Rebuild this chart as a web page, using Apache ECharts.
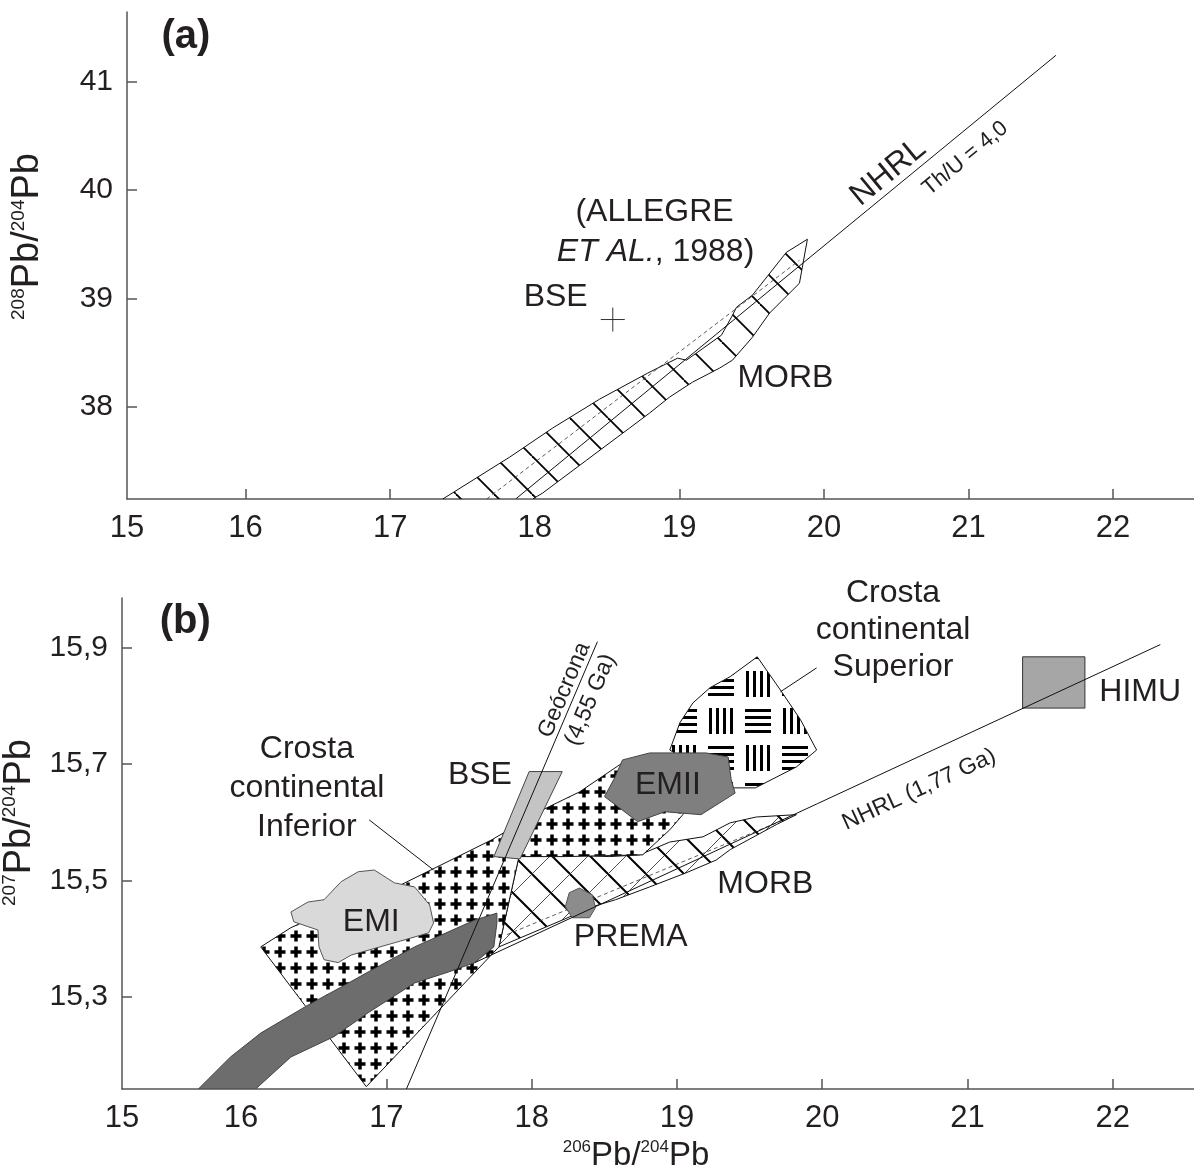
<!DOCTYPE html>
<html><head><meta charset="utf-8">
<script src="https://cdn.jsdelivr.net/npm/echarts@6/dist/echarts.min.js"></script>
<style>html,body{margin:0;padding:0;background:#fff}#c{width:1194px;height:1174px}</style>
</head><body><div id="c"></div>
<script>
// ================= DATA =================
const xTicks = [16, 17, 18, 19, 20, 21, 22];
const yTicksA = [38, 39, 40, 41];
const yTicksB = [15.3, 15.5, 15.7, 15.9];
const xMin = 15.18, xMax = 22.56;
const yMinA = 37.148, yMaxA = 41.644;
const yMinB = 15.142, yMaxB = 15.985;

// panel (a)
const morbA = [[17.364,37.148],[17.827,37.535],[18.124,37.803],[18.449,38.07],[18.781,38.31],[18.988,38.448],[19.05,38.43],[19.292,38.661],[19.361,38.827],[19.396,38.919],[19.506,39.03],[19.741,39.426],[19.886,39.546],
  [19.831,39.14],[19.624,38.864],[19.506,38.642],[19.368,38.43],[19.278,38.356],[19.092,38.227],[18.933,38.089],[18.794,37.941],[18.656,37.803],[18.359,37.507],[18.055,37.203],[17.986,37.148]];
const morbAxisA = [[17.668,37.148],[19.831,39.352]];
const nhrlA = [[17.87,37.15],[21.605,41.244]];
const bseA = [[18.54,38.805]];

// panel (b)
const morbB = [[17.775,15.386],[17.913,15.541],[18.232,15.544],[18.536,15.541],[18.744,15.544],[18.951,15.566],[19.18,15.575],[19.367,15.599],[19.547,15.609],[19.823,15.613],
  [19.685,15.596],[19.367,15.553],[19.27,15.535],[19.062,15.513],[18.813,15.489],[18.578,15.467],[18.419,15.455],[18.211,15.432]];
const morbAxisB = [[17.83,15.407],[19.803,15.611]];
const upperCrust = [[19.553,15.884],[19.713,15.827],[19.851,15.776],[19.962,15.724],[19.823,15.695],[19.54,15.659],[19.387,15.659],[18.951,15.724],[19.021,15.771],[19.111,15.805],[19.228,15.831],[19.367,15.85]];
const lowerCrust = [[16.135,15.386],[16.343,15.419],[16.689,15.458],[17.104,15.493],[17.727,15.57],[18.073,15.621],[18.329,15.652],[18.626,15.702],[18.903,15.711],[19.111,15.656],[19.041,15.613],[18.951,15.587],[18.765,15.544],[18.232,15.541],[17.913,15.541],[17.775,15.386],[17.429,15.295],[16.862,15.146]];
const darkBand = [[15.706,15.142],[16.1,15.142],[16.343,15.197],[16.64,15.232],[16.875,15.273],[17.194,15.324],[17.429,15.343],[17.609,15.359],[17.74,15.386],[17.761,15.427],[17.761,15.444],
  [17.609,15.432],[17.194,15.386],[16.875,15.343],[16.689,15.317],[16.46,15.286],[16.135,15.238],[15.927,15.197]];
const emI = [[16.343,15.446],[16.46,15.463],[16.571,15.467],[16.689,15.498],[16.806,15.515],[16.917,15.518],[17.055,15.496],[17.194,15.489],[17.298,15.458],[17.325,15.427],[17.291,15.41],[17.055,15.393],[16.758,15.372],[16.668,15.359],[16.571,15.364],[16.536,15.386],[16.529,15.415],[16.363,15.429]];
const emII = [[18.626,15.707],[18.813,15.719],[19.201,15.719],[19.353,15.712],[19.374,15.673],[19.401,15.65],[19.166,15.613],[18.917,15.618],[18.73,15.601],[18.502,15.644],[18.571,15.676]];
const prema = [[18.329,15.487],[18.419,15.475],[18.439,15.453],[18.398,15.436],[18.28,15.436],[18.232,15.455],[18.259,15.479]];
const bseB = [[17.983,15.687],[18.211,15.687],[17.92,15.537],[17.74,15.541]];
const himu = [[21.38,15.884],[21.809,15.884],[21.809,15.796],[21.38,15.796]];
const nhrlB = [[17.609,15.359],[22.328,15.905]];
const geochron = [[17.138,15.142],[18.453,15.91]];
const leaderInf = [[16.882,15.604],[17.325,15.518]];
const leaderSup = [[19.962,15.865],[19.713,15.824]];

// text labels (anchor in data units)
const labelsA = [
  {t:'(a)', x:15.588, y:41.41, s:'panel'},
  {t:'(ALLEGRE', x:18.829, y:39.795, s:'lbl'},
  {t:'{i|ET AL.}, 1988)', x:18.836, y:39.426, s:'lbl'},
  {t:'BSE', x:18.145, y:39.011, s:'lbl'},
  {t:'MORB', x:19.734, y:38.264, s:'lbl'},
  {t:'NHRL', x:20.446, y:40.164, s:'nhrl'},
  {t:'Th/U = 4,0', x:20.978, y:40.293, s:'thu'}
];
const labelsB = [
  {t:'(b)', x:15.616, y:15.944, s:'panel'},
  {t:'Crosta\ncontinental\nInferior', x:16.453, y:15.658, s:'lbl'},
  {t:'BSE', x:17.644, y:15.681, s:'lbl'},
  {t:'Geócrona', x:18.225, y:15.827, s:'geo'},
  {t:'(4,55 Ga)', x:18.405, y:15.81, s:'geo'},
  {t:'Crosta\ncontinental\nSuperior', x:20.488, y:15.93, s:'lbl2'},
  {t:'EMII', x:18.938, y:15.664, s:'lbl'},
  {t:'EMI', x:16.896, y:15.429, s:'lbl'},
  {t:'PREMA', x:18.682, y:15.402, s:'lbl'},
  {t:'MORB', x:19.609, y:15.493, s:'lbl'},
  {t:'HIMU', x:22.19, y:15.824, s:'lbl'},
  {t:'NHRL (1,77 Ga)', x:20.668, y:15.656, s:'nhrlb'}
];

// ================= STYLES / PATTERNS =================
const FONT = '"Liberation Sans", Arial, sans-serif';
const INK = '#231f20';
function cv(w, h) { const c = document.createElement('canvas'); c.width = w; c.height = h; return c; }
function plusPattern() {
  const s = 16, c = cv(s, s), g = c.getContext('2d');
  g.fillStyle = '#fff'; g.fillRect(0, 0, s, s);
  g.fillStyle = '#000'; g.fillRect(2.5, 6.25, 11, 3.5); g.fillRect(6.25, 2.5, 3.5, 11);
  return c;
}
function latticePattern(s, thick, thin) {
  const c = cv(s, s), g = c.getContext('2d');
  g.fillStyle = '#fff'; g.fillRect(0, 0, s, s);
  g.strokeStyle = '#000';
  g.lineWidth = thick;
  for (const d of [-s, 0, s]) { g.beginPath(); g.moveTo(d, 0); g.lineTo(d + s, s); g.stroke(); }
  if (thin > 0) {
    g.lineWidth = thin; g.strokeStyle = '#222';
    for (const d of [-s, 0, s]) { g.beginPath(); g.moveTo(d, s); g.lineTo(d + s, 0); g.stroke(); }
  }
  return c;
}
function blockPattern() {
  const cell = 37, s = 74, c = cv(s, s), g = c.getContext('2d');
  g.fillStyle = '#fff'; g.fillRect(0, 0, s, s);
  g.fillStyle = '#000';
  for (let i = 0; i < 2; i++) for (let j = 0; j < 2; j++) {
    const ox = i * cell, oy = j * cell;
    for (let k = 0; k < 4; k++) {
      if ((i + j) % 2 === 0) g.fillRect(ox + 6 + k * 7, oy + 5, 3, 26);
      else g.fillRect(ox + 5, oy + 6 + k * 7, 26, 3);
    }
  }
  return c;
}
const PAT_PLUS = {image: plusPattern(), repeat: 'repeat'};
const PAT_MORB_A = {image: latticePattern(38, 1.8, 0), repeat: 'repeat'};
const PAT_MORB_B = {image: latticePattern(38, 2, 0.8), repeat: 'repeat'};
const PAT_BLOCK = {image: blockPattern(), repeat: 'repeat'};

const TS = {
  panel: {fontSize: 40, fontWeight: 'bold'},
  lbl: {fontSize: 32, lineHeight: 39},
  lbl2: {fontSize: 32, lineHeight: 37},
  nhrl: {fontSize: 32, rot: 39.5},
  thu: {fontSize: 22, rot: 39.5},
  geo: {fontSize: 23, rot: 67},
  nhrlb: {fontSize: 23, rot: 24.7}
};

function polySeries(grid, pts, style, z) {
  return {
    type: 'custom', xAxisIndex: grid, yAxisIndex: grid, z: z, silent: true, clip: true,
    data: pts,
    renderItem: function (params, api) {
      if (params.context.done) return;
      params.context.done = true;
      const points = pts.map(function (p) { return api.coord(p); });
      return {type: 'polygon', shape: {points: points}, style: style};
    }
  };
}
function lineSeries(grid, pts, style, z) {
  return {type: 'line', xAxisIndex: grid, yAxisIndex: grid, data: pts, symbol: 'none', silent: true, z: z,
    lineStyle: Object.assign({color: '#111', width: 1}, style)};
}
function textSeries(grid, items) {
  return {
    type: 'custom', xAxisIndex: grid, yAxisIndex: grid, z: 40, silent: true, clip: false,
    data: items.map(function (d) { return [d.x, d.y]; }),
    renderItem: function (params, api) {
      const d = items[params.dataIndex], st = TS[d.s];
      const p = api.coord([api.value(0), api.value(1)]);
      return {
        type: 'text', x: p[0], y: p[1], rotation: (st.rot || 0) * Math.PI / 180,
        style: {
          text: d.t, fill: INK, fontSize: st.fontSize, fontFamily: FONT, fontWeight: st.fontWeight || 'normal',
          align: 'center', verticalAlign: 'middle', lineHeight: st.lineHeight,
          rich: {i: {fontStyle: 'italic', fontSize: st.fontSize, fontFamily: FONT, fill: INK}}
        }
      };
    }
  };
}
function crossSeries(grid, pts) {
  return {
    type: 'custom', xAxisIndex: grid, yAxisIndex: grid, z: 20, silent: true, data: pts,
    renderItem: function (params, api) {
      const p = api.coord([api.value(0), api.value(1)]);
      const ls = {stroke: '#333', lineWidth: 1};
      return {type: 'group', children: [
        {type: 'line', shape: {x1: p[0] - 12, y1: p[1], x2: p[0] + 12, y2: p[1]}, style: ls},
        {type: 'line', shape: {x1: p[0], y1: p[1] - 12, x2: p[0], y2: p[1] + 12}, style: ls}
      ]};
    }
  };
}

const AX = '#555';
function xAxis(grid, withName) {
  const a = {
    type: 'value', gridIndex: grid, min: xMin, max: xMax,
    axisLine: {show: true, onZero: false, lineStyle: {color: AX, width: 1.5}},
    axisTick: {show: true, inside: true, length: 10, customValues: xTicks, lineStyle: {color: AX, width: 1.5}},
    axisLabel: {customValues: [xMin].concat(xTicks), formatter: function (v) { return String(Math.round(v)); },
      fontSize: 31, color: INK, fontFamily: FONT, margin: 14},
    splitLine: {show: false}
  };
  if (withName) {
    a.name = '{s|206}{m|Pb/}{s|204}{m|Pb}';
    a.nameLocation = 'middle'; a.nameGap = 50;
    a.nameTextStyle = {padding: [0, 44, 0, 0], rich: {
      s: {fontSize: 17, verticalAlign: 'top', fontFamily: FONT, color: INK},
      m: {fontSize: 33, fontFamily: FONT, color: INK}}};
  }
  return a;
}
function yAxis(grid, min, max, ticks, fmt, supTop, shift) {
  return {
    type: 'value', gridIndex: grid, min: min, max: max,
    name: '{s|' + supTop + '}{m|Pb/}{s|204}{m|Pb}', nameLocation: 'middle', nameGap: 80, nameRotate: 90,
    nameTextStyle: {padding: [0, 0, 0, shift], rich: {
      s: {fontSize: 19, verticalAlign: 'top', fontFamily: FONT, color: INK},
      m: {fontSize: 38, fontFamily: FONT, color: INK}}},
    axisLine: {show: true, onZero: false, lineStyle: {color: AX, width: 1.5}},
    axisTick: {show: true, inside: true, length: 10, customValues: ticks, lineStyle: {color: AX, width: 1.5}},
    axisLabel: {customValues: ticks, formatter: fmt, fontSize: 30, color: INK, fontFamily: FONT, margin: 14},
    splitLine: {show: false}
  };
}

const option = {
  animation: false,
  backgroundColor: '#fff',
  grid: [
    {left: 127, right: 0, top: 12, bottom: 675, containLabel: false, outerBoundsMode: 'none'},
    {left: 122, right: 0, top: 598, bottom: 85, containLabel: false, outerBoundsMode: 'none'}
  ],
  xAxis: [xAxis(0, false), xAxis(1, true)],
  yAxis: [
    yAxis(0, yMinA, yMaxA, yTicksA, function (v) { return String(v); }, '208', 38),
    yAxis(1, yMinB, yMaxB, yTicksB, function (v) { return v.toFixed(1).replace('.', ','); }, '207', 42)
  ],
  series: [
    // panel (a)
    polySeries(0, morbA, {fill: PAT_MORB_A, stroke: '#111', lineWidth: 1}, 2),
    lineSeries(0, morbAxisA, {type: [4, 3], width: 0.8, color: '#333'}, 5),
    lineSeries(0, nhrlA, {}, 6),
    crossSeries(0, bseA),
    textSeries(0, labelsA),
    // panel (b)
    polySeries(1, morbB, {fill: PAT_MORB_B, stroke: '#111', lineWidth: 1}, 2),
    lineSeries(1, morbAxisB, {type: [4, 3], width: 0.8, color: '#333'}, 3),
    polySeries(1, upperCrust, {fill: PAT_BLOCK, stroke: '#111', lineWidth: 1}, 4),
    polySeries(1, lowerCrust, {fill: PAT_PLUS, stroke: '#111', lineWidth: 1}, 5),
    polySeries(1, darkBand, {fill: '#6d6d6d', stroke: '#444', lineWidth: 1}, 6),
    polySeries(1, emI, {fill: '#d9d9d9', stroke: '#555', lineWidth: 1}, 7),
    polySeries(1, emII, {fill: '#7f7f7f', stroke: '#444', lineWidth: 1}, 7),
    polySeries(1, prema, {fill: '#8c8c8c', stroke: '#555', lineWidth: 1}, 7),
    polySeries(1, bseB, {fill: '#c4c4c4', stroke: '#444', lineWidth: 1}, 7),
    polySeries(1, himu, {fill: '#a6a6a6', stroke: '#333', lineWidth: 1}, 7),
    lineSeries(1, nhrlB, {}, 10),
    lineSeries(1, geochron, {}, 10),
    lineSeries(1, leaderInf, {}, 10),
    lineSeries(1, leaderSup, {}, 10),
    textSeries(1, labelsB)
  ]
};
const chart = echarts.init(document.getElementById('c'), null, {renderer: 'canvas'});
chart.setOption(option);
</script></body></html>
